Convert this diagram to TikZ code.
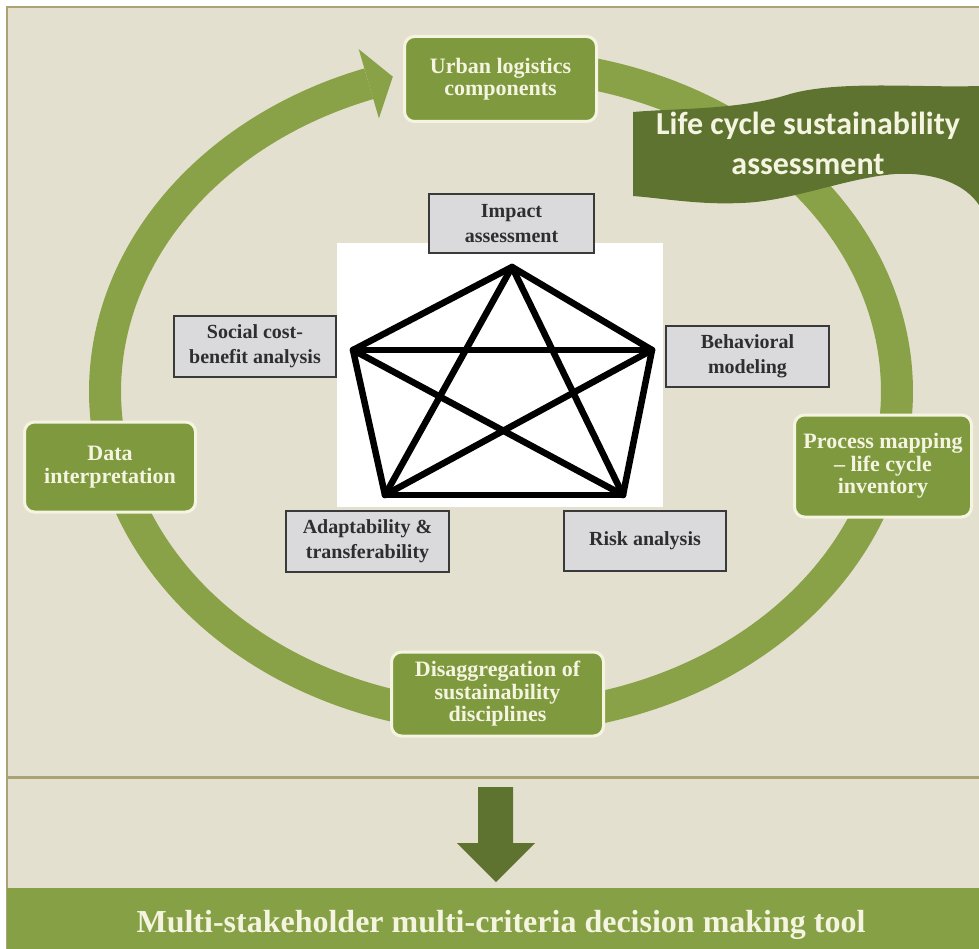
\documentclass[tikz,border=0pt]{standalone}
\usepackage{fontspec}
\setmainfont{Liberation Serif}
\newfontfamily\bannerfont{Carlito}
\definecolor{paper}{HTML}{E4E0CF}
\definecolor{frameline}{HTML}{ABA276}
\definecolor{ringgreen}{HTML}{89A248}
\definecolor{boxgreen}{HTML}{7F993F}
\definecolor{cream}{HTML}{F4F4E0}
\definecolor{ribbon}{HTML}{5F7330}
\definecolor{greyfill}{HTML}{DADADD}
\definecolor{greyedge}{HTML}{3A3A3A}
\definecolor{greytext}{HTML}{2E2E2E}
\definecolor{bargreen}{HTML}{86A046}
\begin{document}
\begin{tikzpicture}[x=1pt,y=-1pt,
  greenbox/.style={draw=cream, line width=3pt, fill=boxgreen, rounded corners=10pt,
    text=cream, font=\fontsize{22}{22.5}\selectfont\bfseries, align=center, inner sep=0pt},
  greybox/.style={draw=greyedge, line width=2.2pt, fill=greyfill, text=greytext,
    font=\fontsize{20}{25}\selectfont\bfseries, align=center, inner sep=0pt},
  link/.style={line width=6.5pt, line cap=round, line join=round},
  ring/.style={draw=ringgreen, line width=32pt, line cap=butt},
]
\useasboundingbox (0,0) rectangle (979,949);
\fill[white] (0,0) rectangle (979,949);

% framed background and section divider
\fill[paper] (7,7) rectangle (985,949);
\draw[frameline, line width=2.5pt] (985,7) -- (7,7) -- (7,949);
\draw[frameline, line width=3pt] (7,777) -- (985,777);

% the cycle ring, ending in an arrowhead at the top left
\draw[ring] plot[domain=-250.5:80, samples=260] ({501+396*cos(\x)},{391.5-326.5*sin(\x)});
\fill[ringgreen] (358.7,49.1) -- (392.8,76.7) -- (378.9,118.3) -- cycle;

% ribbon banner
\fill[ribbon] (633,112) .. controls (680,108) and (740,110) .. (790,94)
  .. controls (840,80) and (920,88) .. (979,86) -- (979,205)
  .. controls (965,184) and (935,172) .. (895,174)
  .. controls (845,178) and (790,202) .. (740,203)
  .. controls (700,205) and (660,198) .. (633,196) -- cycle;
\node[text=cream, font=\bannerfont\bfseries\fontsize{32}{40}\selectfont, align=center]
  (lcsa) at (808,143) {Life cycle sustainability\\assessment};

% white panel with the fully connected pentagon
\fill[white] (337,243) rectangle (663,507);
\coordinate (pT) at (512,267);
\coordinate (pL) at (353,350);
\coordinate (pR) at (652,350);
\coordinate (pBL) at (385,495);
\coordinate (pBR) at (623,495);
\foreach \a/\b in {pT/pL,pT/pR,pT/pBL,pT/pBR,pL/pR,pL/pBL,pL/pBR,pR/pBL,pR/pBR,pBL/pBR}
  \draw[link] (\a) -- (\b);

% methods around the pentagon
\node[greybox, minimum width=165pt, minimum height=59pt] (impact) at (511.5,223.5) {Impact\\assessment};
\node[greybox, minimum width=162pt, minimum height=61pt] (social) at (255,346.5) {Social cost-\\benefit analysis};
\node[greybox, minimum width=163pt, minimum height=61pt] (behav) at (747.5,356.5) {Behavioral\\modeling};
\node[greybox, minimum width=163pt, minimum height=61pt] (adapt) at (367.5,541.5) {Adaptability \&\\transferability};
\node[greybox, minimum width=162pt, minimum height=60pt] (risk) at (645,541) {Risk analysis};

% stages on the cycle
\node[greenbox, minimum width=192pt, minimum height=85pt] (urban) at (500.5,79) {Urban logistics\\components};
\node[greenbox, minimum width=171pt, minimum height=90pt] (data) at (110,467) {Data\\interpretation};
\node[greenbox, minimum width=177pt, minimum height=102pt] (process) at (883,466) {Process mapping\\– life cycle\\inventory};
\node[greenbox, minimum width=212pt, minimum height=84pt] (disagg) at (497.5,694) {Disaggregation of\\sustainability\\disciplines};

% outcome bar and the arrow leading to it
\fill[bargreen] (7,888) rectangle (979,949);
\node[text=cream, font=\fontsize{32}{34}\selectfont\bfseries] (tool) at (501,925)
  {Multi-stakeholder multi-criteria decision making tool};
\fill[ribbon] (478,787) -- (513,787) -- (513,843) -- (535,843) -- (496,882)
  -- (457,843) -- (478,843) -- cycle;
\end{tikzpicture}
\end{document}
